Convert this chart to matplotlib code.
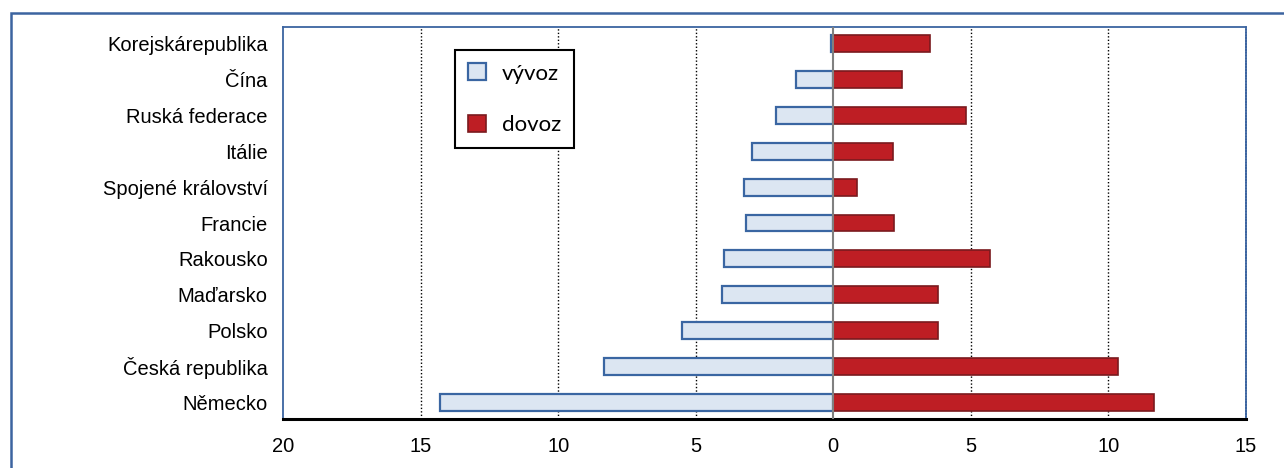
import numpy as np
import matplotlib.pyplot as plt
from matplotlib.patches import Rectangle, Patch

# Data (podíl v %, vývoz záporně)
zeme = ['Německo', 'Česká republika', 'Polsko', 'Maďarsko', 'Rakousko',
        'Francie', 'Spojené království', 'Itálie', 'Ruská federace',
        'Čína', 'Korejskárepublika']
vyvoz = [-14.3, -8.35, -5.5, -4.05, -3.97, -3.18, -3.26, -2.96, -2.1, -1.37, -0.1]
dovoz = [11.65, 10.35, 3.82, 3.82, 5.7, 2.22, 0.85, 2.16, 4.82, 2.5, 3.5]
x_ticks = [-20, -15, -10, -5, 0, 5, 10, 15]
x_labels = ['20', '15', '10', '5', '0', '5', '10', '15']

plt.rcParams['font.family'] = ['Liberation Sans', 'DejaVu Sans']

fig = plt.figure(figsize=(12.84, 4.68), dpi=100)
ax = fig.add_axes([283 / 1284, 1 - 419 / 468, (1246 - 283) / 1284, (419 - 27) / 468])

# vnější rámeček
fig.patches.append(Rectangle((11 / 1284, -0.1), 1.2, 1 - 12.5 / 468 + 0.1,
                             transform=fig.transFigure, fill=False,
                             edgecolor='#3c64a0', linewidth=1.8))

y = np.arange(len(zeme))
h = 0.47
ax.barh(y, vyvoz, height=h, color='#dce6f2', edgecolor='#3a66a2', linewidth=1.6, zorder=3)
ax.barh(y, dovoz, height=h, color='#be1e24', edgecolor='#7a1a1e', linewidth=1.2, zorder=3)

for gx in [-15, -10, -5, 5, 10]:
    ax.axvline(gx, color='black', linestyle=(0, (1, 1.5)), linewidth=1, zorder=1)
ax.axvline(0, color='#808080', linewidth=1.5, zorder=4)

ax.set_xlim(-20, 15)
ax.set_ylim(-0.47, len(zeme) - 0.53)
ax.set_yticks(y)
ax.set_yticklabels(zeme)
ax.set_xticks(x_ticks)
ax.set_xticklabels(x_labels)
ax.tick_params(axis='y', length=0, pad=11, labelsize=14.5)
ax.tick_params(axis='x', length=0, pad=13, labelsize=14.5)

for s in ['left', 'top', 'right']:
    ax.spines[s].set_color('#3c64a0')
    ax.spines[s].set_linewidth(1.3)
ax.spines['right'].set_linestyle((0, (1, 0.6)))
ax.spines['bottom'].set_color('black')
ax.spines['bottom'].set_linewidth(2.2)

handles = [Patch(facecolor='#dce6f2', edgecolor='#3a66a2', linewidth=1.6, label='vývoz'),
           Patch(facecolor='#be1e24', edgecolor='#7a1a1e', linewidth=1.2, label='dovoz')]
leg = ax.legend(handles=handles, loc='upper left',
                bbox_to_anchor=((455 - 283) / 963, 1 - (50 - 27) / 392),
                frameon=True, fancybox=False, edgecolor='black', framealpha=1,
                prop={'family': ['Lato', 'DejaVu Sans'], 'size': 16},
                handlelength=0.8, handleheight=0.8, handletextpad=0.7,
                labelspacing=1.4, borderpad=0.6, borderaxespad=0)
leg.get_frame().set_linewidth(1.5)

fig.savefig('out.png', dpi=100)
